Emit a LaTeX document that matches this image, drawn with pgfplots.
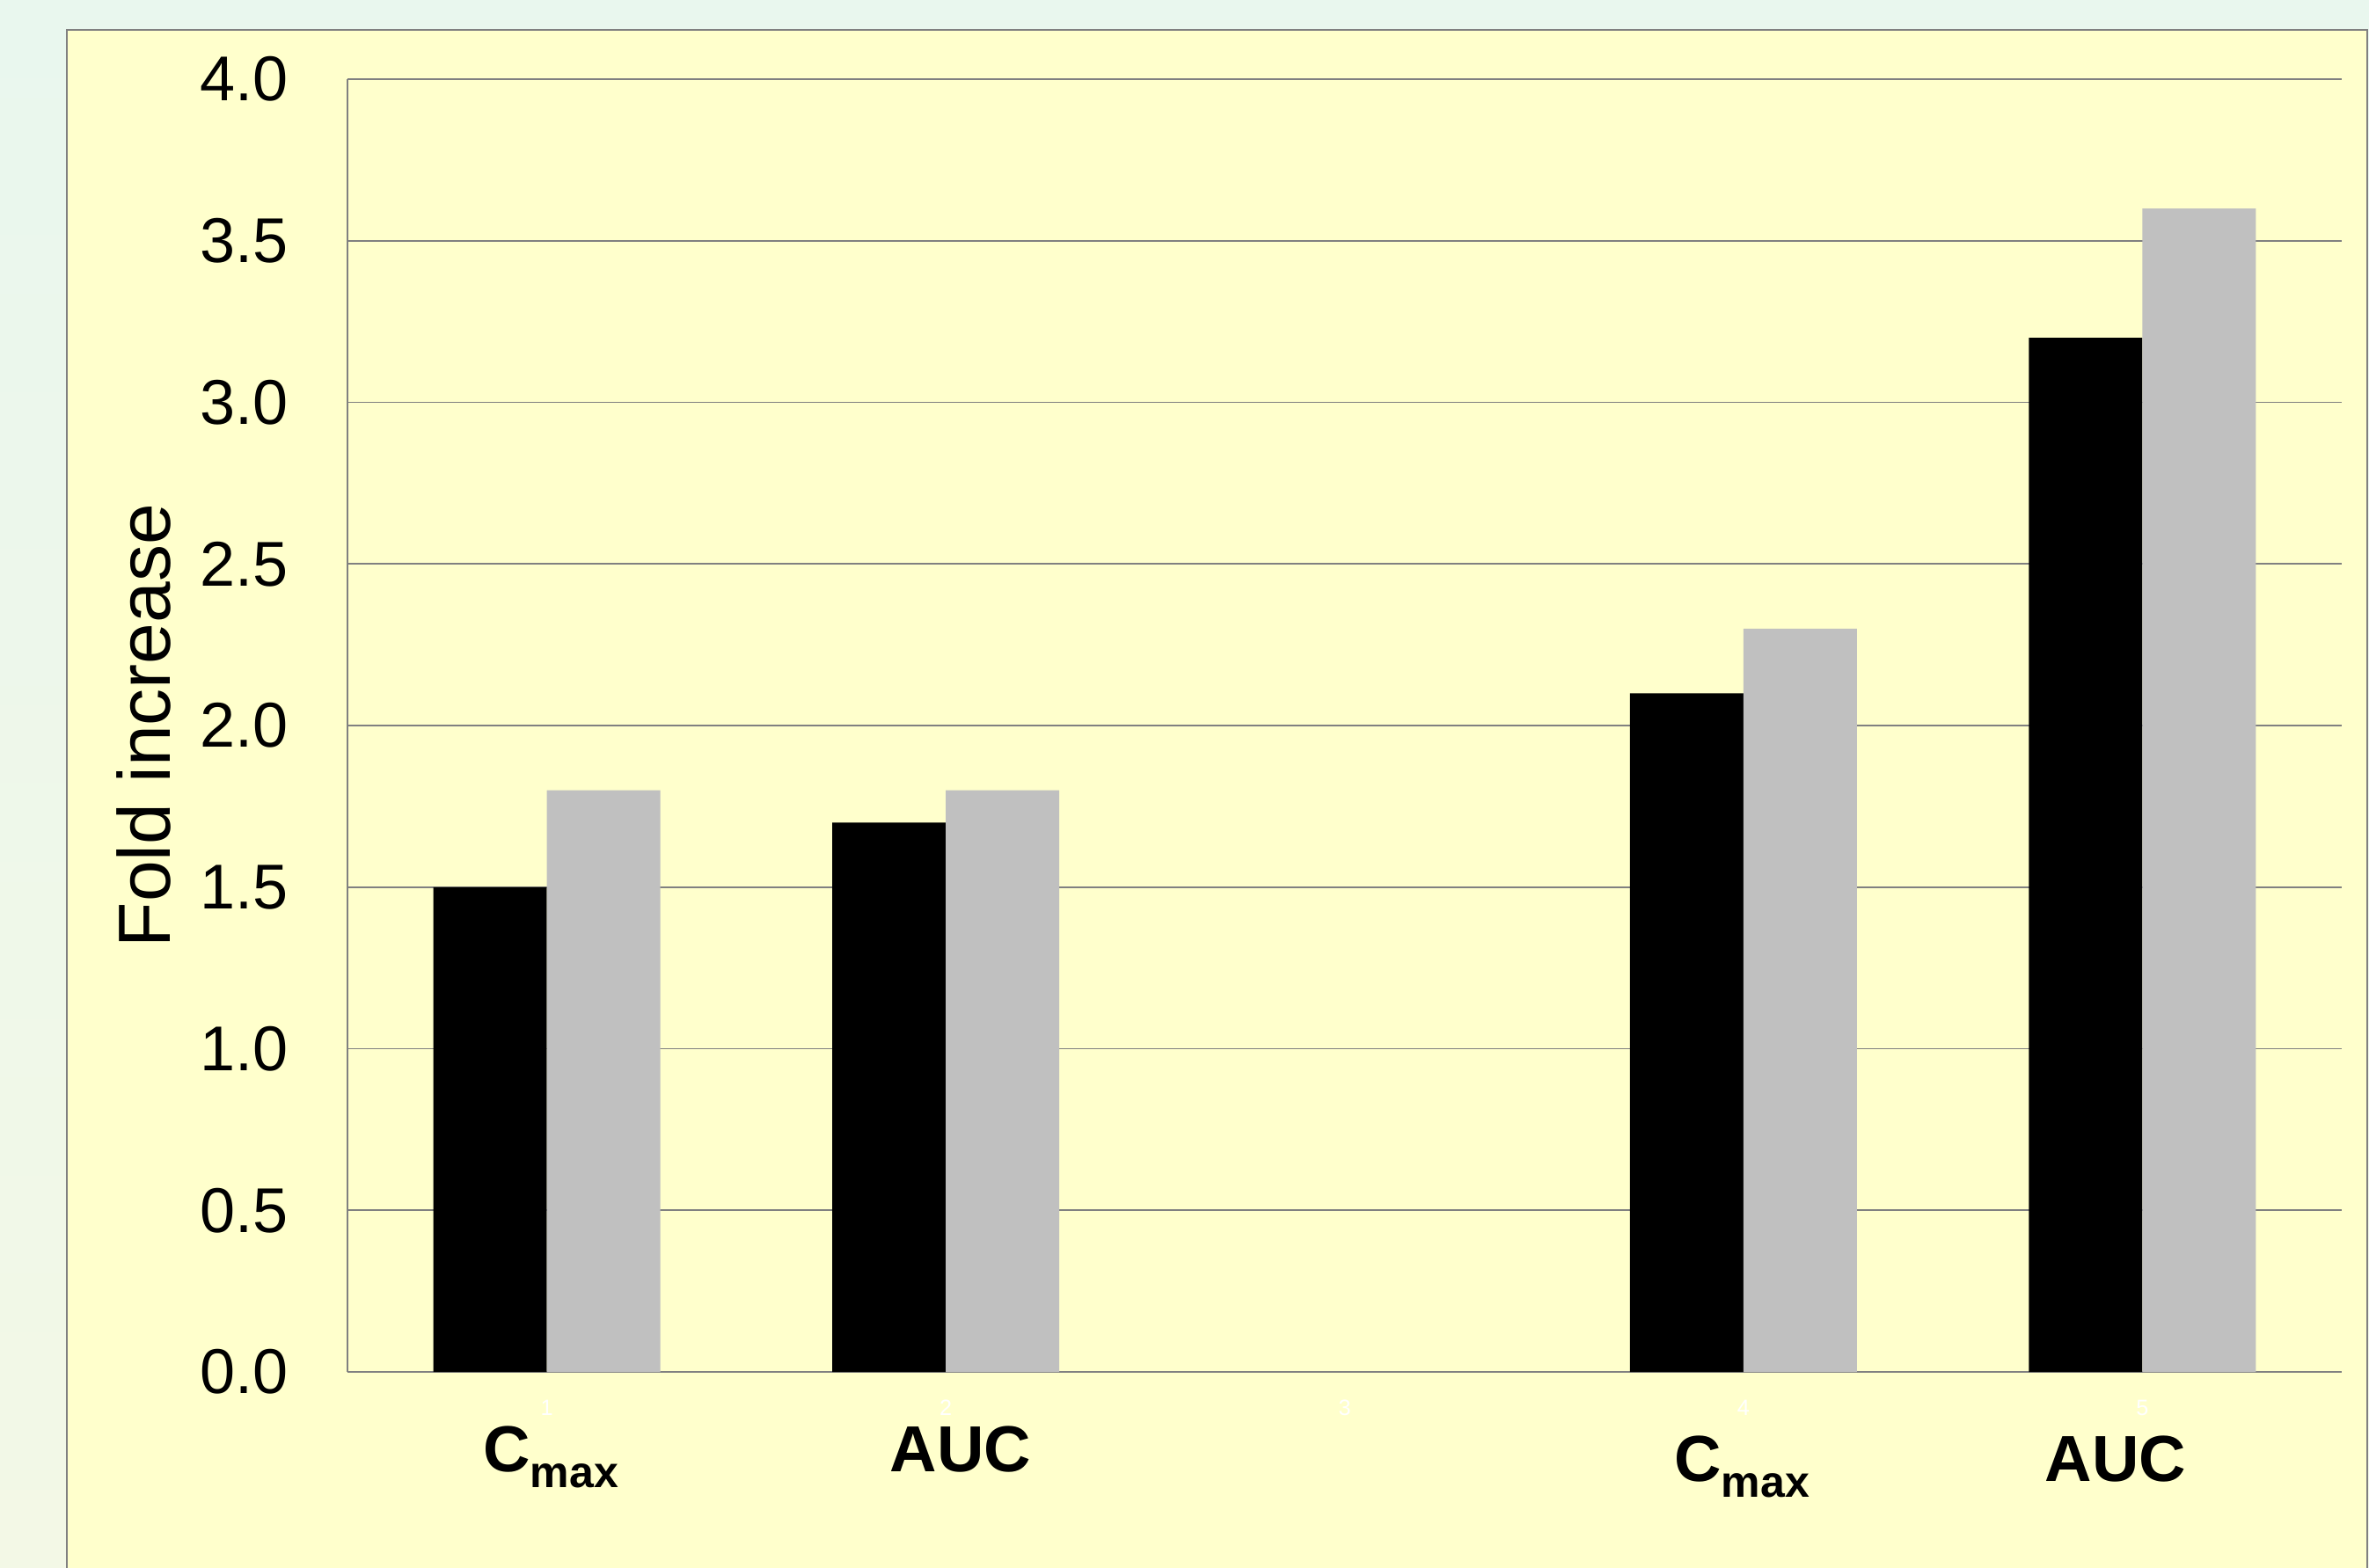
\documentclass[border=0pt]{standalone}
\usepackage{fontspec}
\setmainfont{Liberation Sans}
\usepackage{pgfplots}
\pgfplotsset{compat=1.18}
\definecolor{panel}{RGB}{255,255,204}
\definecolor{bgtop}{RGB}{233,247,238}
\definecolor{bgbot}{RGB}{243,248,230}
\definecolor{barg}{RGB}{192,192,192}
\definecolor{lin}{RGB}{128,128,128}
\begin{document}
\begin{tikzpicture}
\useasboundingbox (0pt,0pt) rectangle (673.25pt,445.5pt);
\shade[top color=bgtop,bottom color=bgbot] (0pt,0pt) rectangle (673.25pt,445.5pt);
\fill[panel] (19pt,-1pt) rectangle (673pt,437pt);
\draw[lin,line width=0.6pt] (19pt,-1pt) -- (19pt,437pt) -- (672.8pt,437pt) -- (672.8pt,-1pt);
\begin{axis}[
  at={(98.75pt,55.5pt)}, anchor=south west,
  scale only axis, width=566.75pt, height=367.5pt,
  xmin=0.5, xmax=5.5, ymin=0, ymax=4,
  axis lines=left, axis line style={lin, line width=0.5pt, -},
  ybar=0pt, bar width=32.25pt,
  ymajorgrids, grid style={lin, line width=0.4pt},
  major tick length=0pt,
  ytick={0,0.5,...,4},
  yticklabel style={inner sep=0pt, xshift=-16.75pt, font=\fontsize{18}{20}\selectfont,
    /pgf/number format/.cd, fixed, fixed zerofill, precision=1, assume math mode=true},
  xtick={1,2,3,4,5}, xticklabels={1,2,3,4,5},
  xticklabel style={white, inner sep=0pt, yshift=-7.75pt, font=\fontsize{6.3}{7}\selectfont},
  ylabel={Fold increase},
  ylabel style={at={(axis description cs:-0.1023,0.5)}, anchor=center, font=\fontsize{21}{24}\selectfont},
  clip=false,
]
\addplot[fill=black, draw=none] coordinates {(1,1.5) (2,1.7) (4,2.1) (5,3.2)};
\addplot[fill=barg, draw=none] coordinates {(1,1.8) (2,1.8) (4,2.3) (5,3.6)};
\node[anchor=base, inner sep=0pt, font=\fontsize{18.5}{20}\selectfont\bfseries] at (axis cs:1.01,-0.31) {C\raisebox{-4.5pt}{\fontsize{12.5}{14}\selectfont max}};
\node[anchor=base, inner sep=0pt, font=\fontsize{18.5}{20}\selectfont\bfseries] at (axis cs:2.037,-0.31) {AUC};
\node[anchor=base, inner sep=0pt, font=\fontsize{18.5}{20}\selectfont\bfseries] at (axis cs:3.996,-0.34) {C\raisebox{-4.5pt}{\fontsize{12.5}{14}\selectfont max}};
\node[anchor=base, inner sep=0pt, font=\fontsize{18.5}{20}\selectfont\bfseries] at (axis cs:4.933,-0.34) {AUC};
\end{axis}
\end{tikzpicture}
\end{document}
